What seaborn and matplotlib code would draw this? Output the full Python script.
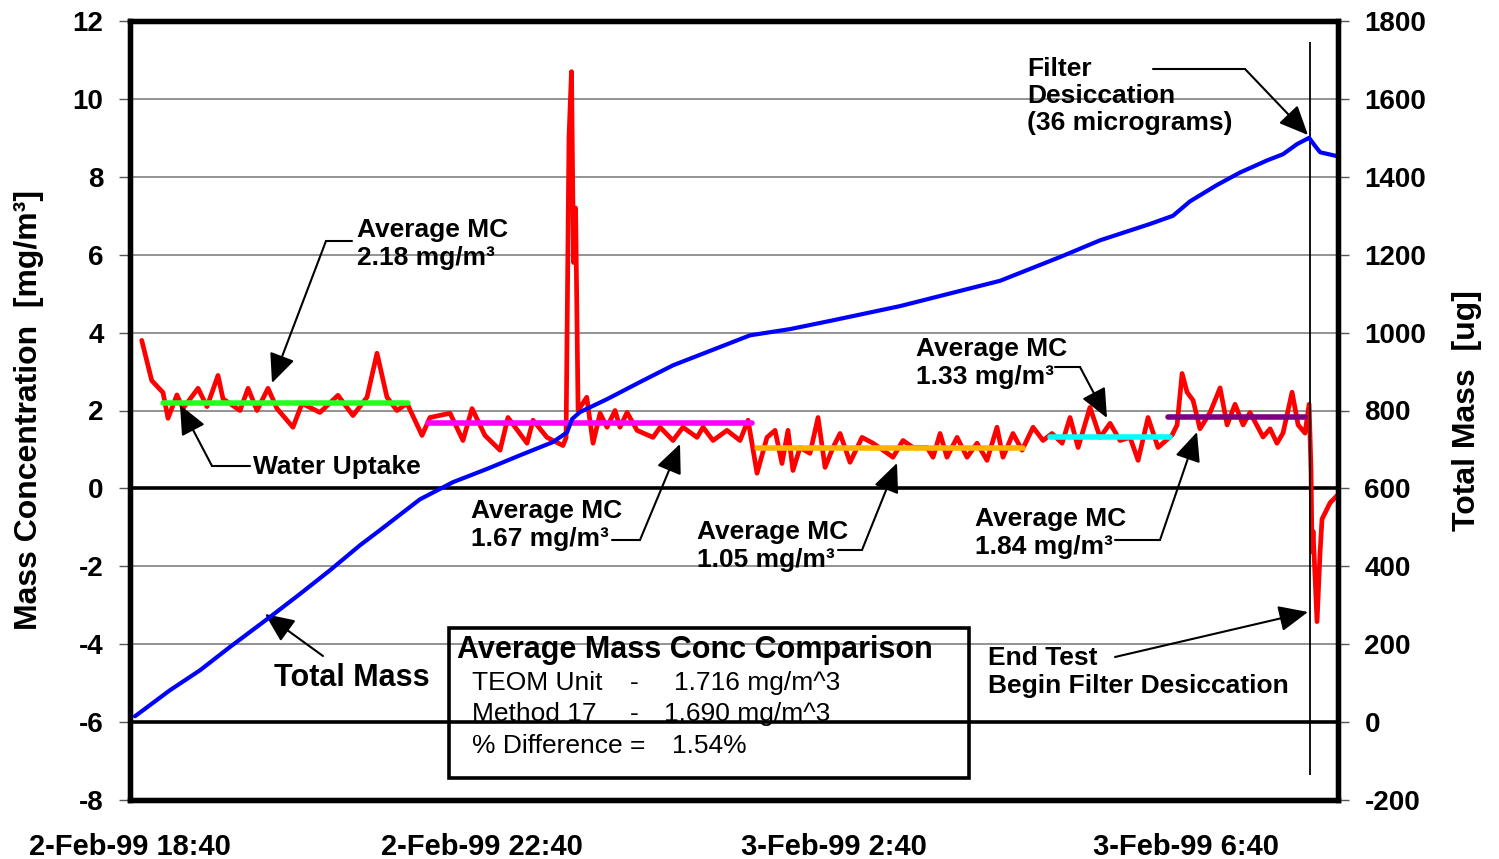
import numpy as np
import pandas as pd
import matplotlib
matplotlib.use('Agg')
import matplotlib.pyplot as plt
import matplotlib.dates as mdates
from matplotlib.lines import Line2D
from matplotlib.patches import Rectangle
from matplotlib.ticker import FuncFormatter
import seaborn as sns

# ---- data ----
start = pd.Timestamp('1999-02-02 18:40')
end_minute = 823.6

# mass concentration [mg/m3], minutes after start
mc_minutes = [8.0, 14.8, 22.5, 25.9, 32.0, 36.1, 46.4, 52.5, 60.0, 63.4,
              75.0, 80.5, 86.6, 94.1, 100.2, 111.1, 117.3, 129.5, 141.8, 152.0,
              161.6, 168.4, 175.2, 182.0, 188.9, 199.1, 204.5, 218.2, 227.0, 233.2,
              242.0, 252.3, 257.7, 270.7, 274.8, 284.3, 295.2, 297.3, 299.3, 301.0,
              302.4, 303.8, 305.5, 311.4, 315.7, 320.5, 325.2, 330.7, 334.1, 338.9,
              345.7, 356.6, 361.4, 370.2, 377.0, 386.6, 390.7, 397.5, 407.0, 415.9,
              421.4, 427.5, 434.3, 439.8, 444.5, 448.6, 452.0, 456.8, 463.6, 469.1,
              473.9, 479.3, 484.1, 490.9, 499.1, 506.6, 513.4, 520.2, 527.0, 533.9,
              543.4, 547.5, 552.3, 557.0, 563.9, 570.7, 577.5, 584.3, 591.1, 595.2,
              602.0, 608.2, 615.7, 622.5, 628.6, 635.5, 640.9, 646.4, 654.5, 661.4,
              668.2, 675.0, 681.8, 687.3, 694.1, 700.9, 710.5, 713.9, 717.3, 720.7,
              724.8, 729.5, 736.4, 743.2, 748.0, 753.4, 758.9, 763.6, 772.5, 777.3,
              782.0, 786.1, 792.3, 796.4, 801.1, 803.9, 805.2, 805.9, 806.6, 809.3,
              811.4, 812.7, 818.2, 823.6]
mc_values = [3.8, 2.77, 2.46, 1.8, 2.4, 2.05, 2.57, 2.1, 2.9, 2.3,
             2.0, 2.57, 2.0, 2.57, 2.05, 1.57, 2.18, 1.95, 2.39, 1.87,
             2.34, 3.47, 2.34, 2.0, 2.18, 1.36, 1.82, 1.93, 1.23, 2.05,
             1.36, 0.98, 1.82, 1.16, 1.75, 1.31, 1.1, 1.3, 9.0, 10.7,
             5.8, 7.2, 2.0, 2.34, 1.16, 1.93, 1.57, 2.0, 1.57, 1.95,
             1.49, 1.31, 1.57, 1.23, 1.57, 1.31, 1.57, 1.23, 1.49, 1.23,
             1.75, 0.39, 1.31, 1.49, 0.64, 1.49, 0.46, 1.05, 0.9, 1.82,
             0.54, 1.05, 1.41, 0.67, 1.31, 1.16, 0.98, 0.8, 1.23, 1.05,
             1.05, 0.8, 1.41, 0.8, 1.31, 0.8, 1.16, 0.72, 1.57, 0.8,
             1.41, 0.98, 1.57, 1.23, 1.41, 1.16, 1.82, 1.05, 2.08, 1.31,
             1.67, 1.23, 1.31, 0.72, 1.82, 1.05, 1.37, 1.63, 2.95, 2.47,
             2.26, 1.53, 1.95, 2.58, 1.63, 2.16, 1.63, 1.95, 1.32, 1.53,
             1.16, 1.42, 2.47, 1.63, 1.42, 2.16, 0.47, -1.63, -1.1, -3.42,
             -1.63, -0.79, -0.37, -0.16]

# total mass [ug]
mass_minutes = [3.4, 27.3, 47.7, 68.2, 95.5, 115.9, 136.4, 156.8, 170.5, 197.7,
                220.2, 243.4, 265.9, 288.4, 298.0, 301.4, 306.8, 325.2, 347.7, 370.2,
                393.4, 422.7, 450.0, 477.3, 525.0, 593.2, 634.1, 661.4, 695.5, 711.1,
                722.7, 741.1, 756.8, 775.2, 786.1, 795.7, 803.9, 808.0, 811.4, 823.0]
mass_values = [15, 82, 133, 193, 270, 329, 390, 454, 493, 572,
               616, 650, 685, 719, 744, 778, 796, 829, 873, 916,
               950, 993, 1009, 1030, 1068, 1133, 1194, 1237, 1279, 1300,
               1337, 1379, 1411, 1442, 1458, 1484, 1500, 1479, 1463, 1453]

# average MC over each period
avg_labels = ['2.18', '1.67', '1.05', '1.33', '1.84']
avg_values = [2.18, 1.67, 1.05, 1.33, 1.84]
avg_start = [22.5, 203.2, 427.5, 627.3, 707.7]
avg_end = [189.5, 424.1, 608.9, 709.1, 801.1]
avg_colors = ['#22FF22', '#FF00FF', '#FFB300', '#00FFFF', '#7F007F']

desiccation_minute = 804.2

tick_times = ['1999-02-02 18:40', '1999-02-02 22:40', '1999-02-03 02:40', '1999-02-03 06:40']

# ---- frames ----
mc = pd.DataFrame({'time': start + pd.to_timedelta(mc_minutes, unit='min'), 'mc': mc_values})
mass = pd.DataFrame({'time': start + pd.to_timedelta(mass_minutes, unit='min'), 'mass': mass_values})
avg = pd.DataFrame({
    'period': np.repeat(avg_labels, 2),
    'time': start + pd.to_timedelta(np.ravel(np.column_stack([avg_start, avg_end])), unit='min'),
    'mc': np.repeat(avg_values, 2)})

# ---- style ----
sns.set_style('white')
plt.rcParams['font.family'] = ['Liberation Sans', 'DejaVu Sans']
plt.rcParams['font.weight'] = 'bold'
plt.rcParams['axes.labelweight'] = 'bold'
plt.rcParams['axes.unicode_minus'] = False
plt.rcParams['text.color'] = 'black'
plt.rcParams['axes.labelcolor'] = 'black'

W, H = 1499, 859
fig = plt.figure(figsize=(W / 100, H / 100), dpi=100)
ax = fig.add_axes([130 / W, 59 / H, 1208 / W, 779 / H])
ax2 = ax.twinx()

ax.set_yticks(range(-8, 13, 2))
ax.grid(axis='y', color='#808080', lw=1.2)
ax.set_axisbelow(True)
ax.axhline(0, color='black', lw=2.6, zorder=1.5)
ax.axhline(-6, color='black', lw=2.6, zorder=1.5)

sns.lineplot(data=mc, x='time', y='mc', color='#FF0000', lw=3.4, ax=ax,
             estimator=None, sort=False, zorder=3, solid_joinstyle='round')
sns.lineplot(data=avg, x='time', y='mc', hue='period', palette=avg_colors, lw=4,
             ax=ax, estimator=None, legend=False, zorder=4)
sns.lineplot(data=mass, x='time', y='mass', color='#0000FF', lw=3.0, ax=ax2,
             estimator=None, sort=False, solid_joinstyle='round')

ax.vlines(start + pd.Timedelta(minutes=desiccation_minute), -7.37, 11.45,
          color='black', lw=1.3, zorder=5)

ax.set_ylim(-8, 12)
ax2.set_ylim(-200, 1800)
ax2.set_yticks(range(-200, 1801, 200))
ax.set_xlim(start, start + pd.Timedelta(minutes=end_minute))
ax.set_xticks(pd.to_datetime(tick_times))


def fmt_time(v, pos):
    d = mdates.num2date(v)
    return f"{d.day}-{d:%b-%y} {d.hour}:{d:%M}"


ax.xaxis.set_major_formatter(FuncFormatter(fmt_time))
ax.set_xlabel('')
ax.set_ylabel('Mass Concentration  [mg/m³]', fontsize=23)
ax.yaxis.set_label_coords(-0.071, 0.5)
ax2.set_ylabel('Total Mass  [ug]', fontsize=23)
ax2.yaxis.set_label_coords(1.094, 0.5)

ax.tick_params(axis='y', direction='out', length=8, width=1, color='#555555',
               labelcolor='black', labelsize=20, pad=11)
ax.tick_params(axis='x', direction='out', length=7, width=1, color='#555555',
               labelcolor='black', labelsize=21, pad=17)
ax2.tick_params(axis='y', direction='out', length=8, width=1, color='#555555',
                labelcolor='black', labelsize=20, pad=11)
for a in (ax, ax2):
    for s in a.spines.values():
        s.set_linewidth(3.8)
        s.set_edgecolor('black')
        s.set_visible(True)


# ---- annotations (reference pixel positions) ----
def fxy(x, y):
    return (x / W, 1 - y / H)


def label(x, y, s, size=19, weight='bold'):
    fig.text(*fxy(x, y), s, ha='left', va='center', fontsize=size, fontweight=weight,
             linespacing=1.18, color='black')


def pointer(*pts):
    for (x1, y1), (x2, y2) in zip(pts[:-2], pts[1:-1]):
        fig.add_artist(Line2D([x1 / W, x2 / W], [1 - y1 / H, 1 - y2 / H],
                              transform=fig.transFigure, color='black', lw=1.5))
    ax.annotate('', xy=fxy(*pts[-1]), xytext=fxy(*pts[-2]),
                xycoords='figure fraction', textcoords='figure fraction',
                arrowprops=dict(arrowstyle='-|>,head_length=0.9,head_width=0.4',
                                color='black', lw=1.5, shrinkA=0, shrinkB=0,
                                mutation_scale=20))


label(357, 244, 'Average MC\n2.18 mg/m³')
pointer((352, 241), (326, 241), (272, 383))
label(253, 467, 'Water Uptake')
pointer((250, 466), (212, 466), (180, 405))
label(471, 525, 'Average MC\n1.67 mg/m³')
pointer((612, 540), (640, 540), (680, 444))
label(697, 546, 'Average MC\n1.05 mg/m³')
pointer((838, 550), (862, 550), (897, 463))
label(916, 363, 'Average MC\n1.33 mg/m³')
pointer((1055, 367), (1080, 367), (1107, 418))
label(975, 533, 'Average MC\n1.84 mg/m³')
pointer((1115, 540), (1160, 540), (1197, 432))
label(1027, 96, 'Filter\nDesiccation\n(36 micrograms)')
pointer((1153, 69), (1245, 69), (1308, 135))
label(274, 678, 'Total Mass', size=22)
pointer((323, 656), (265, 614))
label(988, 672, 'End Test\nBegin Filter Desiccation')
pointer((1115, 657), (1308, 612))

# comparison box
fig.add_artist(Rectangle(fxy(449, 778), 520 / W, 150 / H, transform=fig.transFigure,
                         fill=False, lw=2.6, edgecolor='black'))
label(457, 650, 'Average Mass Conc Comparison', size=22)
label(472, 683, 'TEOM Unit', weight='normal')
label(630, 683, '-', weight='normal')
label(674, 683, '1.716 mg/m^3', weight='normal')
label(472, 714, 'Method 17', weight='normal')
label(630, 714, '-', weight='normal')
label(664, 714, '1.690 mg/m^3', weight='normal')
label(472, 746, '% Difference =', weight='normal')
label(672, 746, '1.54%', weight='normal')

fig.savefig('out.png', dpi=100)
